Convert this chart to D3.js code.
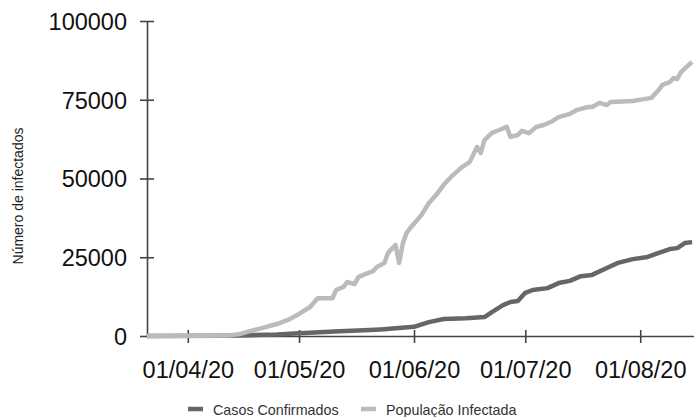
<!DOCTYPE html>
<html>
<head>
<meta charset="utf-8">
<script src="https://cdn.jsdelivr.net/npm/d3@7"></script>
<style>
  body { margin: 0; background: #fff; }
  text { font-family: "Liberation Sans", Arial, sans-serif; }
</style>
</head>
<body>
<svg id="chart"></svg>
<script>
// Data
const casesDates = ["2020-03-21", "2020-04-10", "2020-04-18", "2020-04-25", "2020-05-01", "2020-05-12", "2020-05-20",
    "2020-05-23", "2020-06-01", "2020-06-05", "2020-06-09", "2020-06-15", "2020-06-20", "2020-06-22",
    "2020-06-25", "2020-06-27", "2020-06-29", "2020-07-01", "2020-07-03", "2020-07-07", "2020-07-10",
    "2020-07-13", "2020-07-16", "2020-07-19", "2020-07-23", "2020-07-26", "2020-07-30", "2020-08-03",
    "2020-08-06", "2020-08-09", "2020-08-11", "2020-08-13", "2020-08-15"];
const casesValues = [0, 50, 250, 500, 900, 1500, 1900,
    2100, 2900, 4400, 5400, 5600, 6000, 7600,
    9800, 10800, 11100, 13700, 14600, 15200, 16800,
    17500, 19000, 19400, 21600, 23200, 24400, 25100,
    26400, 27600, 27900, 29500, 29800];

const infectedDates = ["2020-03-21", "2020-04-04", "2020-04-12", "2020-04-15", "2020-04-18", "2020-04-21",
    "2020-04-25", "2020-04-28", "2020-05-01", "2020-05-04", "2020-05-06", "2020-05-10", "2020-05-11",
    "2020-05-13", "2020-05-14", "2020-05-16", "2020-05-17", "2020-05-19", "2020-05-21", "2020-05-22",
    "2020-05-24", "2020-05-25", "2020-05-27", "2020-05-28", "2020-05-29", "2020-05-30", "2020-05-31",
    "2020-06-03", "2020-06-05", "2020-06-07", "2020-06-09", "2020-06-11", "2020-06-14", "2020-06-16",
    "2020-06-18", "2020-06-19", "2020-06-20", "2020-06-22", "2020-06-24", "2020-06-26", "2020-06-27",
    "2020-06-29", "2020-06-30", "2020-07-02", "2020-07-04", "2020-07-06", "2020-07-08", "2020-07-10",
    "2020-07-13", "2020-07-15", "2020-07-18", "2020-07-19", "2020-07-21", "2020-07-23", "2020-07-24",
    "2020-07-30", "2020-08-02", "2020-08-04", "2020-08-06", "2020-08-07", "2020-08-09", "2020-08-10",
    "2020-08-11", "2020-08-12", "2020-08-14", "2020-08-15"];
const infectedValues = [0, 50, 150, 600, 1600, 2500,
    3800, 5100, 7000, 9200, 12000, 12000, 14600,
    15600, 17100, 16500, 18700, 19700, 20600, 21900,
    23200, 26400, 28900, 23200, 29500, 32700, 34300,
    38400, 42200, 44800, 48000, 50500, 53700, 55200,
    60000, 58100, 62200, 64500, 65400, 66400, 63200,
    63800, 65100, 64400, 66400, 67000, 68000, 69500,
    70500, 71800, 72700, 72700, 74000, 73300, 74300,
    74600, 75200, 75600, 78100, 79700, 80600, 81900,
    81600, 83800, 86000, 87000];

const yTicks = [0, 25000, 50000, 75000, 100000];
const xTicks = ["2020-04-01", "2020-05-01", "2020-06-01", "2020-07-01", "2020-08-01"];
const seriesNames = ["Casos Confirmados", "População Infectada"];
const seriesColors = ["#666666", "#bbbbbb"];

const width = 694;
const height = 417;
const parse = d3.timeParse("%Y-%m-%d");

const svg = d3.select("#chart")
    .attr("width", width)
    .attr("height", height);

const x = d3.scaleTime()
    .domain([parse("2020-03-21"), new Date(2020, 7, 15, 12)])
    .range([147, 694]);

const y = d3.scaleLinear()
    .domain([0, 100000])
    .range([336, 21]);

// x axis
const xAxis = svg.append("g")
    .attr("transform", `translate(0,${y(0)})`)
    .call(d3.axisBottom(x)
        .tickValues(xTicks.map(parse))
        .tickFormat(d3.timeFormat("%d/%m/%y"))
        .tickSizeOuter(0));

// y axis
const yAxis = svg.append("g")
    .attr("transform", `translate(${x.range()[0]},0)`)
    .call(d3.axisLeft(y)
        .tickValues(yTicks)
        .tickFormat(d3.format("d"))
        .tickSizeOuter(0));

// style both axes, ticks crossing the axis line
xAxis.selectAll(".tick line").attr("y1", -6).attr("y2", 7);
xAxis.selectAll(".tick text").attr("y", 42).attr("dy", 0);
yAxis.selectAll(".tick line").attr("x1", -7).attr("x2", 7);
yAxis.selectAll(".tick text").attr("x", -20).attr("dy", "0.36em");

svg.selectAll(".domain, .tick line")
    .attr("stroke", "#444")
    .attr("stroke-width", 1.6);
svg.selectAll(".tick text")
    .attr("fill", "#111")
    .style("font-size", "23.5px");

// y title
svg.append("text")
    .attr("transform", "translate(23,196) rotate(-90)")
    .attr("text-anchor", "middle")
    .style("font-size", "14px")
    .attr("fill", "#222")
    .text("Número de infectados");

// lines
const line = d3.line()
    .x(d => x(d[0]))
    .y(d => y(d[1]));

const series = [
    casesDates.map((d, i) => [parse(d), casesValues[i]]),
    infectedDates.map((d, i) => [parse(d), infectedValues[i]])
];

svg.append("g")
    .selectAll("path")
    .data(series)
    .enter().append("path")
    .attr("d", line)
    .attr("fill", "none")
    .attr("stroke", (d, i) => seriesColors[i])
    .attr("stroke-width", 4.5)
    .attr("stroke-linejoin", "round");

// legend
const legendX = [188, 361];
const legend = svg.append("g")
    .selectAll("g")
    .data(seriesNames)
    .enter().append("g")
    .attr("transform", (d, i) => `translate(${legendX[i]},409)`);

legend.append("line")
    .attr("x1", 0)
    .attr("x2", 15)
    .attr("stroke", (d, i) => seriesColors[i])
    .attr("stroke-width", 4.5);

legend.append("text")
    .attr("x", 25)
    .attr("y", 6)
    .style("font-size", "14.3px")
    .attr("fill", "#333")
    .text(d => d);
</script>
</body>
</html>
